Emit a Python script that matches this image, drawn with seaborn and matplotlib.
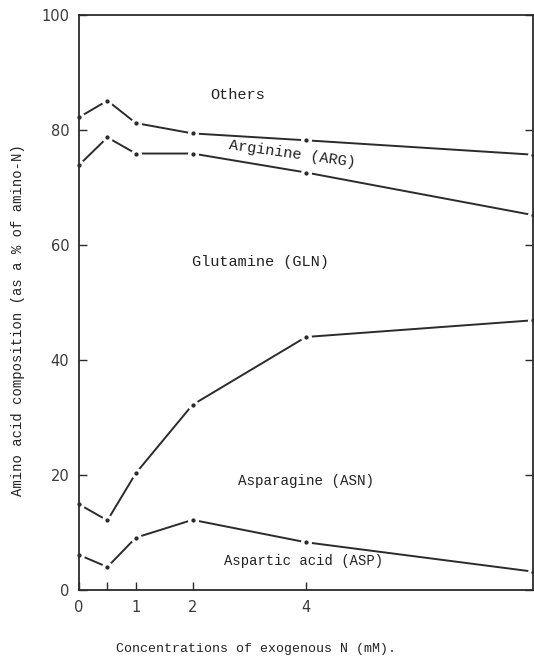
import numpy as np
import pandas as pd
import matplotlib
matplotlib.use('Agg')
import matplotlib.pyplot as plt
import seaborn as sns

# exogenous N concentration (mM)
conc = [0, 0.5, 1, 2, 4, 8]

# cumulative boundaries between amino acid bands (% of amino-N)
others_bound = [82.2, 85.1, 81.2, 79.4, 78.2, 75.7]   # ARG / Others
arg_bound = [73.9, 78.7, 75.9, 75.9, 72.6, 65.2]      # GLN / ARG
gln_bound = [14.9, 12.1, 20.3, 32.2, 44.0, 46.9]      # ASN / GLN
asn_bound = [6.1, 4.0, 9.1, 12.2, 8.3, 3.2]           # ASP / ASN

x_ticks = [0, 0.5, 1, 2, 4]
x_tick_labels = ['0', '', '1', '2', '4']
y_ticks = [0, 20, 40, 60, 80, 100]

sns.set_style('ticks')
plt.rcParams['font.family'] = ['DejaVu Sans']

fig = plt.figure(figsize=(5.34, 6.61), dpi=100)
ax = fig.add_axes([0.148, 0.1074, 0.85, 0.8700])

ink = '#2b2b2b'
for vals in [others_bound, arg_bound, gln_bound, asn_bound]:
    sns.lineplot(x=conc, y=vals, ax=ax, color=ink, linewidth=1.4,
                 marker='o', markersize=5.5, markerfacecolor=ink,
                 markeredgecolor='white', markeredgewidth=2.4,
                 clip_on=False, legend=False)

ax.set_xlim(0, 8)
ax.set_ylim(0, 100)
ax.set_xticks(x_ticks)
ax.set_xticklabels(x_tick_labels)
ax.set_yticks(y_ticks)
ax.tick_params(direction='in', length=6, width=1, colors=ink,
               labelsize=10.5, labelcolor='#3a3a3a', right=True, pad=7)
for s in ax.spines.values():
    s.set_color(ink)
    s.set_linewidth(1.3)

mono = 'Liberation Mono'
tk = dict(family=mono, fontsize=11, color='#222222')
ax.text(2.8, 86, 'Others', ha='center', va='center', **tk)
ax.text(3.75, 75.8, 'Arginine (ARG)', ha='center', va='center', rotation=-8, **tk)
ax.text(3.2, 57, 'Glutamine (GLN)', ha='center', va='center', **tk)
ax.text(4.0, 19, 'Asparagine (ASN)', ha='center', va='center',
        family=mono, fontsize=10.3, color='#222222')
ax.text(3.95, 5, 'Aspartic acid (ASP)', ha='center', va='center',
        family=mono, fontsize=10, color='#222222')

ax.set_xlabel('Concentrations of exogenous N (mM).', family=mono, fontsize=9.5, color='#222222')
ax.set_ylabel('Amino acid composition (as a % of amino-N)', family=mono, fontsize=10, color='#222222')
ax.xaxis.set_label_coords(0.39, -0.093)
ax.yaxis.set_label_coords(-0.12, 0.47)

fig.savefig('out.png', dpi=100)
